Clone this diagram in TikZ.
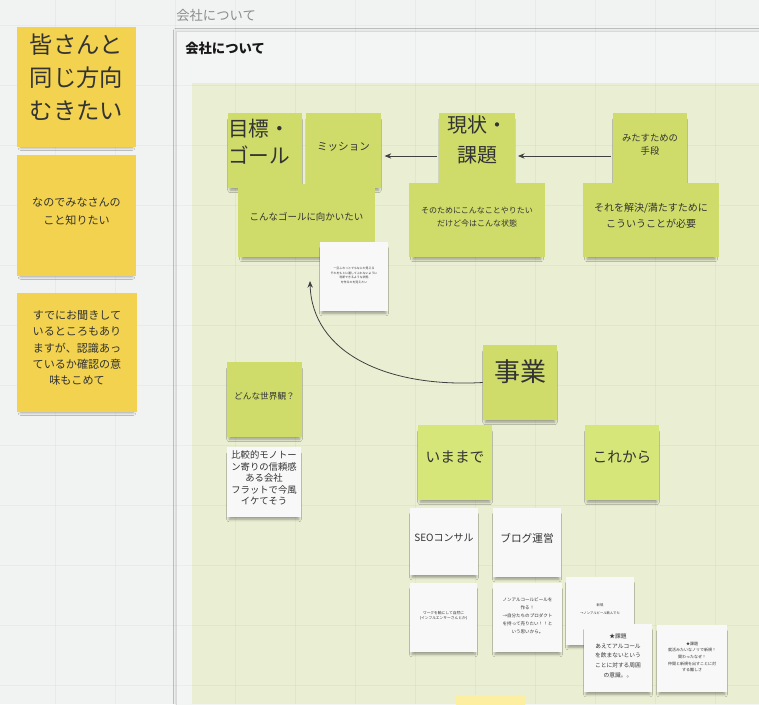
\documentclass[tikz,border=0pt]{standalone}
\usepackage{fontspec}
\setmainfont{Noto Sans CJK JP}
\usetikzlibrary{fit,shadows.blur,arrows.meta}
\definecolor{bgc}{HTML}{F1F2F2}
\definecolor{panelc}{HTML}{F3F4F4}
\definecolor{areac}{HTML}{EAEED3}
\definecolor{yel}{HTML}{F2D24E}
\definecolor{grn}{HTML}{CFDC6A}
\definecolor{grnl}{HTML}{D6E679}
\definecolor{wht}{HTML}{F8F8F8}
\definecolor{txt}{HTML}{333333}
\definecolor{pale}{HTML}{FCEFA2}
\tikzset{
  note/.style={inner sep=0pt, align=center, text=txt,
    blur shadow={shadow xshift=0pt, shadow yshift=-3.5pt, shadow scale=0.94, shadow blur radius=2pt, shadow opacity=35}},
  ynote/.style={note, fill=yel},
  gnote/.style={note, fill=grn},
  lgnote/.style={note, fill=grnl},
  wnote/.style={note, fill=wht},
  fs/.style 2 args={font=\fontsize{#1}{#2}\selectfont},
  conn/.style={draw=black!75, line width=0.6pt, -{Stealth[length=5pt,width=4pt]}},
  gridc/.style={draw=black, opacity=0.03, line width=0.6pt}
}
\begin{document}
\begin{tikzpicture}[x=0.75pt,y=-0.75pt]
\useasboundingbox (0,0) rectangle (759,704);
\fill[bgc] (0,0) rectangle (759,704);
% panel
\node[fit={(176,31)(780,730)}, inner sep=0pt, fill=panelc, draw=black!15,
  blur shadow={shadow xshift=0pt, shadow yshift=0pt, shadow blur radius=2pt, shadow opacity=12}] (panel) {};
\fill[areac] (192,83) rectangle (759,704);
% grid
\foreach \x in {55,115,...,715} \draw[gridc] (\x,0) -- (\x,704);
\foreach \y in {25,85,...,685} \draw[gridc] (0,\y) -- (759,\y);
% labels
\node[anchor=west, inner sep=0pt, text=black!45, fs={10}{12}] (lbl) at (176,15) {会社について};
\node[anchor=west, inner sep=0pt, text=black!90, fs={10}{12}, font=\bfseries] (title) at (185,48) {会社について};
% yellow notes
\node[ynote, fit={(17,27)(136,147)}, fs={17.5}{24.5}] (n1) {皆さんと\\同じ方向\\むきたい};
\node[ynote, fit={(17,155)(136,276)}, fs={8.3}{13.5}] (n2) {なのでみなさんの\\こと知りたい};
\node[ynote, fit={(17,293)(137,412)}, fs={8.3}{12.2}] (n3) {すでにお聞きして\\いるところもあり\\ますが、認識あっ\\ているか確認の意\\味もこめて};
% top row
\node[gnote, fit={(228,113)(302,188)}, fs={15.5}{20}, align=left] (goal) {目標・\\ゴール};
\node[gnote, fit={(306,113)(381,188)}, fs={7.9}{10}] (mission) {ミッション};
\node[gnote, fit={(238,184)(375,257)}, fs={7.1}{9}] (gtext) {こんなゴールに向かいたい};
\node[wnote, fit={(320,242)(388,311)}, fs={2.2}{3.5}] (w1) {一旦ふわっとでもなにか見える\\それをもとに通してぶれないように\\判断できるような状態\\を作るのを見えたい};
\node[gnote, fit={(439,113)(515,183)}, fs={15}{22.5}] (status) {現状・\\課題};
\node[gnote, fit={(409,183)(545,257)}, fs={6}{9.5}] (stext) {そのためにこんなことやりたい\\だけど今はこんな状態};
\node[gnote, fit={(613,113)(687,183)}, fs={7}{9.75}] (means) {みたすための\\手段};
\node[gnote, fit={(583,183)(719,257)}, fs={7.5}{12}] (mtext) {それを解決/満たすために\\こういうことが必要};
% arrows top
\draw[conn, shorten <=1.5pt, shorten >=2.5pt] ([yshift=-6pt]status.west) -- ([yshift=-6pt]status.west -| mission.east);
\draw[conn, shorten <=1.5pt, shorten >=2pt] ([yshift=-6pt]means.west) -- ([yshift=-6pt]means.west -| status.east);
% left column
\node[gnote, fit={(227,362)(302,437)}, fs={6.5}{8}] (world) {どんな世界観？};
\node[wnote, fit={(227,447)(301,517)}, fs={7}{8.6}] (wtext) {比較的モノトー\\ン寄りの信頼感\\ある会社\\フラットで今風\\イケてそう};
% business
\node[gnote, fit={(483,345)(557,420)}, fs={19.5}{22}] (biz) {事業};
\coordinate (tip) at (310,281);
\draw[conn] (biz.west) .. controls (385,388) and (312,352) .. (tip);
\node[lgnote, fit={(418,425)(492,500)}, fs={11}{13}] (past) {いままで};
\node[lgnote, fit={(585,425)(659,500)}, fs={11}{13}] (future) {これから};
\node[wnote, fit={(410,508)(478,575)}, fs={7.5}{9}] (seo) {SEOコンサル};
\node[wnote, fit={(493,508)(561,577)}, fs={8}{10}] (blog) {ブログ運営};
\node[wnote, fit={(410,583)(477,652)}, fs={2.8}{4}] (w2) {ワークを軸にして自然に\\(インフルエンサーさんとか)};
\node[wnote, fit={(493,583)(562,652)}, fs={3.4}{5.9}] (w3) {ノンアルコールビールを\\作る！\\→自分たちのプロダクト\\を持って売りたい！！と\\いう思いから。};
\node[wnote, fit={(566,577)(634,645)}, fs={2.5}{6}] (w4) {新規\\→ノンアルビール飲んでた};
\node[wnote, fit={(584,624)(652,692)}, fs={4.3}{7.3}] (w5) {★課題\\あえてアルコール\\を飲まないという\\ことに対する周囲\\の意識。。};
\node[wnote, fit={(657,625)(727,692)}, fs={3}{5}] (w6) {★課題\\就活みたいなノリで新規！\\関わったなぜ！\\仲間と新規を出すことに対\\する難しさ};
\node[fit={(456,695)(525,710)}, inner sep=0pt, fill=pale] (strip) {};
\end{tikzpicture}
\end{document}
